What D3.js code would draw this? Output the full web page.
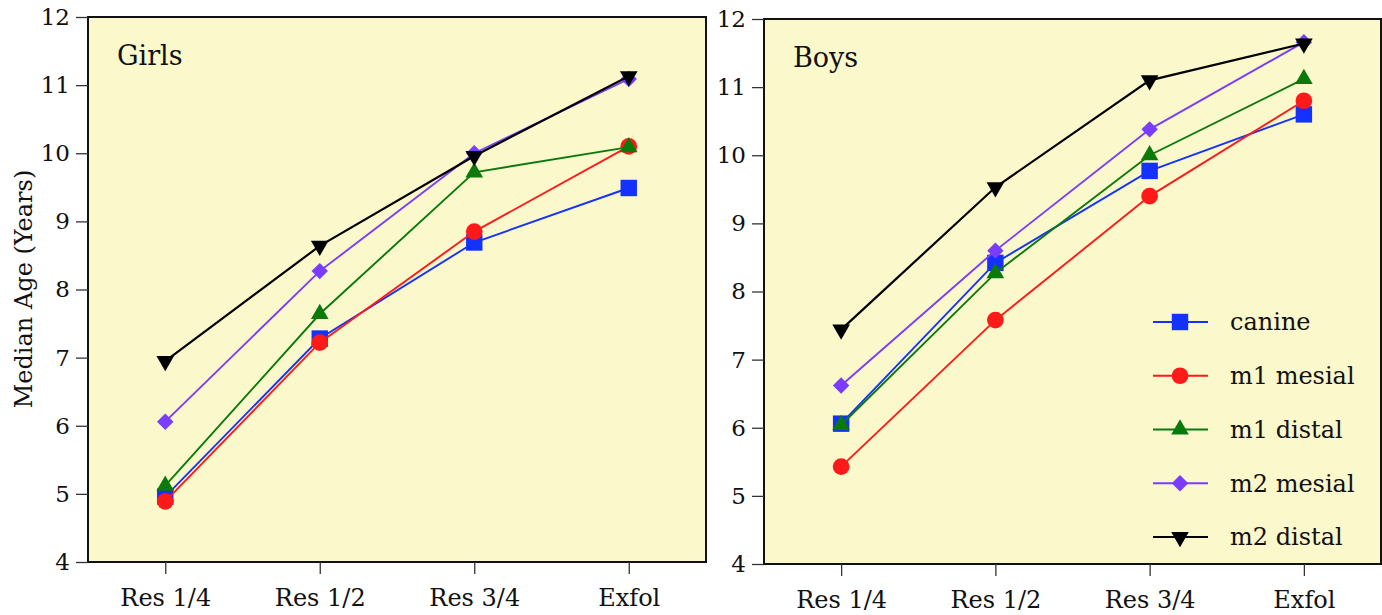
<!DOCTYPE html>
<html>
<head>
<meta charset="utf-8">
<script src="https://cdn.jsdelivr.net/npm/d3@7"></script>
<style>
  body { margin: 0; background: #fff; }
  svg { display: block; }
  text { font-family: "DejaVu Serif", serif; fill: #111; }
</style>
</head>
<body>
<svg id="chart" width="1382" height="615"></svg>
<script>
// stages on the x axis and the y tick values
const stages = ["Res 1/4", "Res 1/2", "Res 3/4", "Exfol"];
const yTicks = [4, 5, 6, 7, 8, 9, 10, 11, 12];
const teeth = ["canine", "m1 mesial", "m1 distal", "m2 mesial", "m2 distal"];

// median ages
const girlsCanine   = [4.96, 7.28, 8.69, 9.49];
const girlsM1Mesial = [4.89, 7.22, 8.85, 10.10];
const girlsM1Distal = [5.12, 7.64, 9.72, 10.09];
const girlsM2Mesial = [6.06, 8.27, 10.00, 11.09];
const girlsM2Distal = [6.95, 8.64, 9.96, 11.13];

const boysCanine   = [6.06, 8.42, 9.77, 10.60];
const boysM1Mesial = [5.43, 7.58, 9.40, 10.80];
const boysM1Distal = [6.04, 8.27, 10.00, 11.12];
const boysM2Mesial = [6.62, 8.60, 10.38, 11.66];
const boysM2Distal = [7.44, 9.53, 11.10, 11.64];

const colors = ["#1432ff", "#ff1a1a", "#0b7a0b", "#7a3cff", "#000000"];
const shapes = ["square", "circle", "triangle", "diamond", "triangleDown"];

const svg = d3.select("#chart");

function markerPath(shape) {
	if (shape === "square") return d3.symbol(d3.symbolSquare, 270)();
	if (shape === "circle") return d3.symbol(d3.symbolCircle, 220)();
	if (shape === "diamond") return d3.symbol(d3.symbolSquare, 135)();
	return d3.symbol(d3.symbolTriangle, 135)();
}
function markerRotate(shape) {
	if (shape === "diamond") return 45;
	if (shape === "triangleDown") return 180;
	return 0;
}

function drawPanel(frame, title, seriesList, withLegend) {
	let g = svg.append("g");
	let x = d3.scalePoint()
		.domain(stages)
		.range([frame.x0, frame.x1])
		.padding(0.5);
	let y = d3.scaleLinear()
		.domain([4, 12])
		.range([frame.y1, frame.y0]);

	g.append("rect")
		.attr("x", frame.x0)
		.attr("y", frame.y0)
		.attr("width", frame.x1 - frame.x0)
		.attr("height", frame.y1 - frame.y0)
		.attr("fill", "#fbf8cc")
		.attr("stroke", "#111")
		.attr("stroke-width", 2);

	let yAxis = g.append("g")
		.attr("transform", "translate(" + frame.x0 + ",0)")
		.call(d3.axisLeft(y).tickValues(yTicks).tickFormat(d3.format("d")).tickSize(12).tickPadding(6));
	let xAxis = g.append("g")
		.attr("transform", "translate(0," + frame.y1 + ")")
		.call(d3.axisBottom(x).tickSize(12).tickPadding(15));
	[yAxis, xAxis].forEach(a => {
		a.select(".domain").remove();
		a.selectAll(".tick line").attr("stroke", "#333").attr("stroke-width", 1.3);
		a.selectAll(".tick text").attr("font-family", "DejaVu Serif").attr("fill", "#111");
	});
	yAxis.selectAll(".tick text").attr("font-size", 23);
	xAxis.selectAll(".tick text").attr("font-size", 24);

	g.append("text")
		.attr("x", frame.x0 + 29)
		.attr("y", frame.y0 + 48)
		.attr("font-size", 27)
		.text(title);

	let line = d3.line()
		.x((d, i) => x(stages[i]))
		.y(d => y(d));

	seriesList.forEach((vals, k) => {
		g.append("path")
			.datum(vals)
			.attr("d", line)
			.attr("fill", "none")
			.attr("stroke", colors[k])
			.attr("stroke-width", k === 4 ? 2.2 : 1.9);
		g.selectAll(".m" + k)
			.data(vals)
			.enter().append("path")
			.attr("class", "m" + k)
			.attr("d", markerPath(shapes[k]))
			.attr("transform", (d, i) => "translate(" + x(stages[i]) + "," + y(d) + ") rotate(" + markerRotate(shapes[k]) + ")")
			.attr("fill", colors[k]);
	});

	if (withLegend) {
		let rows = d3.scalePoint().domain(teeth).range([322, 537]);
		let leg = g.selectAll(".leg")
			.data(teeth)
			.enter().append("g")
			.attr("transform", d => "translate(0," + rows(d) + ")");
		leg.append("line")
			.attr("x1", 1153).attr("x2", 1208)
			.attr("stroke", (d, i) => colors[i])
			.attr("stroke-width", 2);
		leg.append("path")
			.attr("d", (d, i) => markerPath(shapes[i]))
			.attr("transform", (d, i) => "translate(1180,0) rotate(" + markerRotate(shapes[i]) + ")")
			.attr("fill", (d, i) => colors[i]);
		leg.append("text")
			.attr("x", 1230)
			.attr("dy", "0.35em")
			.attr("font-size", 24)
			.text(d => d);
	}
}

drawPanel({x0: 88, x1: 706, y0: 17, y1: 562}, "Girls",
	[girlsCanine, girlsM1Mesial, girlsM1Distal, girlsM2Mesial, girlsM2Distal], false);
drawPanel({x0: 764, x1: 1381, y0: 19, y1: 564}, "Boys",
	[boysCanine, boysM1Mesial, boysM1Distal, boysM2Mesial, boysM2Distal], true);

svg.append("text")
	.attr("transform", "translate(32,289) rotate(-90)")
	.attr("text-anchor", "middle")
	.attr("font-size", 24)
	.text("Median Age (Years)");
</script>
</body>
</html>
